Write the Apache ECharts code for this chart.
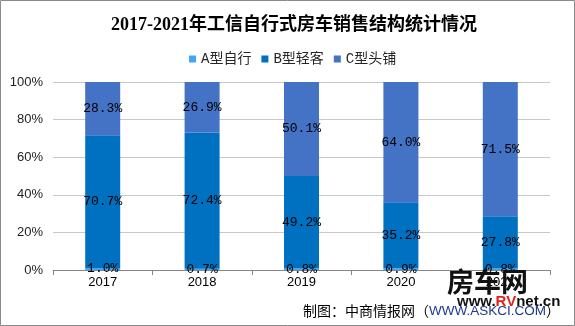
<!DOCTYPE html>
<html><head><meta charset="utf-8">
<script src="https://cdn.jsdelivr.net/npm/echarts@6/dist/echarts.min.js"></script>
<style>html,body{margin:0;padding:0;background:#fff}#c{width:575px;height:326px}</style>
</head><body><div id="c"></div>
<script>
var categories = ['2017','2018','2019','2020','2021'];
var seriesNames = ['A型自行','B型轻客','C型头铺'];
var typeA = [1.0, 0.7, 0.8, 0.9, 0.8];
var typeB = [70.7, 72.4, 49.2, 35.2, 27.8];
var typeC = [28.3, 26.9, 50.1, 64.0, 71.5];
var yTicks = [0, 20, 40, 60, 80, 100];

var colors = ['#42a5f5', '#0070c0', '#4472c4'];
var chart = echarts.init(document.getElementById('c'), null, {renderer:'canvas'});
function mk(name, data, color){
  return {
    name: name, type: 'bar', stack: 'total', barWidth: 35,
    data: data, itemStyle: {color: color},
    label: {show: true, position: 'inside', color: '#000', fontFamily: 'Liberation Mono', fontSize: 13,
      formatter: function(p){ return p.value.toFixed(1) + '%'; }}
  };
}
chart.setOption({
  backgroundColor: '#fff',
  animation: false,
  title: {text: '2017-2021年工信自行式房车销售结构统计情况', left: 289, textAlign: 'center', top: 11,
    textStyle: {fontSize: 18, fontWeight: 'bold', color: '#000', fontFamily: 'Liberation Serif, Noto Sans CJK SC'}},
  legend: {data: seriesNames, left: 184, top: 47, itemWidth: 7, itemHeight: 7, itemGap: 10,
    icon: 'rect', textStyle: {fontSize: 14, color: '#262626', fontFamily: 'Liberation Mono, Noto Sans CJK SC'}},
  grid: {left: 53, right: 25, top: 82, bottom: 56},
  xAxis: {type: 'category', data: categories,
    axisLine: {lineStyle: {color: '#868686'}},
    axisTick: {show: true, length: 5, lineStyle: {color: '#868686'}},
    axisLabel: {color: '#000', fontSize: 13, fontFamily: 'Liberation Sans', margin: 6}},
  yAxis: {type: 'value', min: yTicks[0], max: yTicks[yTicks.length-1], interval: 20,
    axisLine: {show: false}, axisTick: {show: false},
    splitLine: {lineStyle: {color: '#c8c8c8'}},
    axisLabel: {color: '#222', fontSize: 13, fontFamily: 'Liberation Sans', margin: 10, formatter: '{value}%'}},
  series: [mk(seriesNames[0], typeA, colors[0]), mk(seriesNames[1], typeB, colors[1]), mk(seriesNames[2], typeC, colors[2])],
  graphic: [
    {type: 'rect', shape: {x: 0.5, y: 0.5, width: 574, height: 325}, style: {fill: 'none', stroke: '#8a8a8a', lineWidth: 1}, z: 100},
    {type: 'text', left: 447, top: 268, style: {text: '房车网', fontSize: 27, fontWeight: 'bold', fill: '#111', fontFamily: 'Noto Sans CJK SC'}, z: 50},
    {type: 'text', left: 457, top: 294, style: {text: '{a|www.}{r|RV}{a|net.cn}', rich: {
      a: {fontSize: 15, fontWeight: 'bold', fill: '#111', fontFamily: 'Liberation Sans'},
      r: {fontSize: 15, fontWeight: 'bold', fill: '#e0241b', fontFamily: 'Liberation Sans'}}}, z: 50},
    {type: 'text', left: 303, top: 304, style: {text: '{a|制图：中商情报网（}{b|WWW.ASKCI.COM}{a|）}', rich: {
      a: {fontSize: 14, fill: '#000', fontFamily: 'Noto Sans CJK SC'},
      b: {fontSize: 13.5, fill: '#1f3a8a', fontFamily: 'Liberation Sans'}}}, z: 50}
  ]
});
</script></body></html>
